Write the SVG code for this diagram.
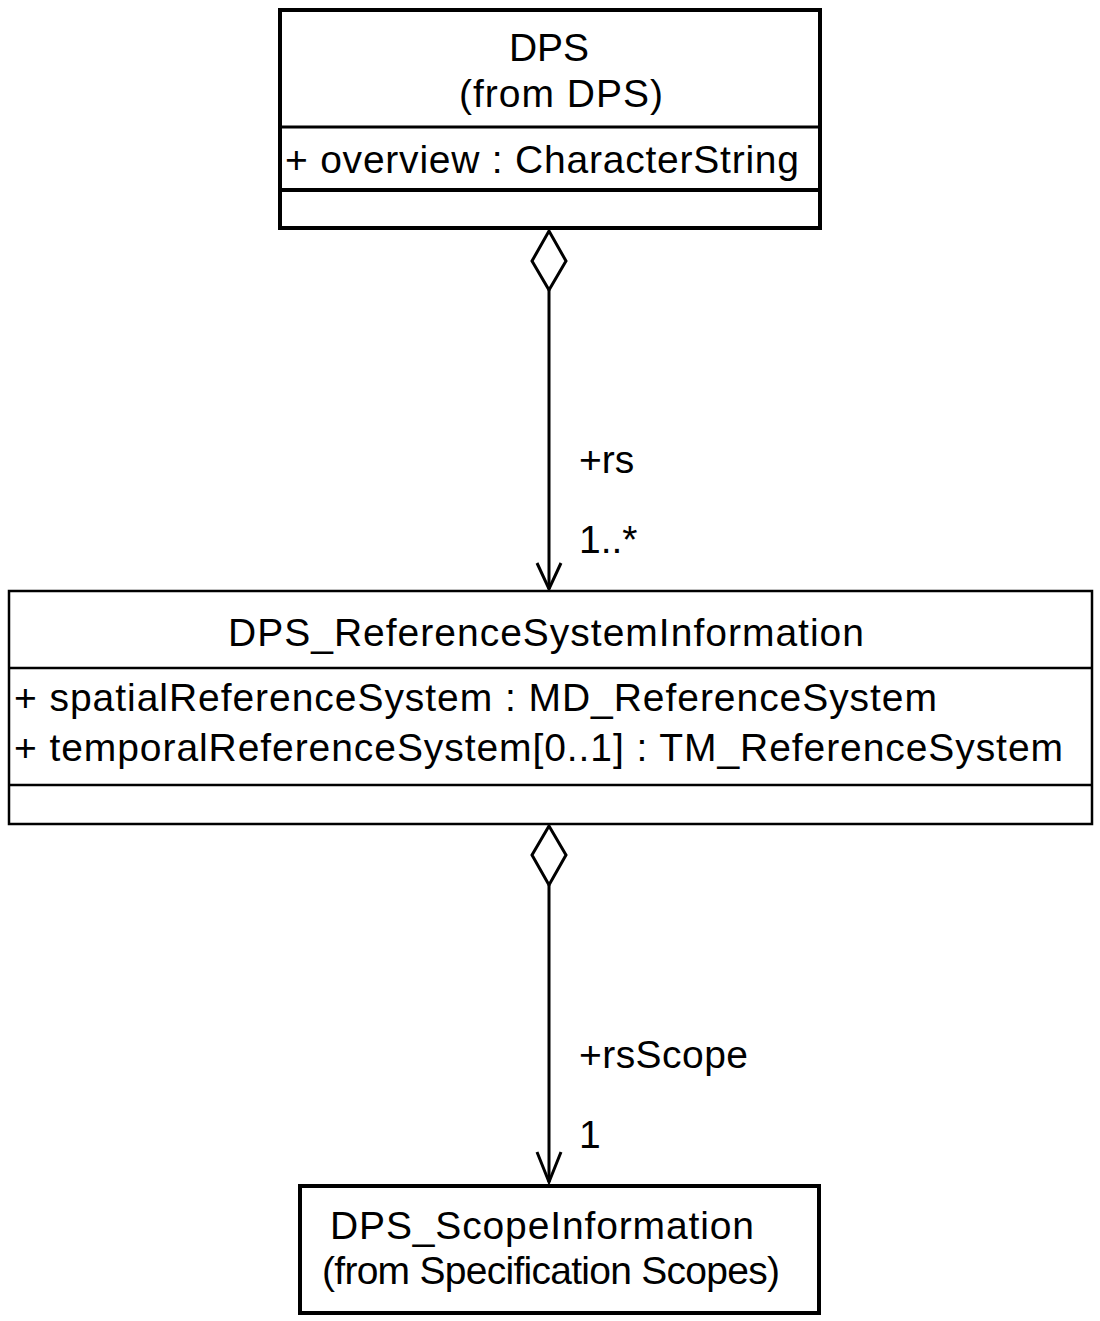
<svg xmlns="http://www.w3.org/2000/svg" width="1100" height="1321" viewBox="0 0 1100 1321">
<style>
text{font-family:"Liberation Sans",Arial,sans-serif;font-size:39px;fill:#000}
.c{text-anchor:middle}
.box{fill:#fff;stroke:#000}
.thick{stroke-width:4}
.thin{stroke-width:2.5}
.ln{stroke:#000;fill:none}
</style>
<rect width="1100" height="1321" fill="#fff"/>
<g id="connectors">
  <g id="c1">
    <line class="ln" x1="549" y1="290" x2="549" y2="589" stroke-width="3"/>
    <polygon points="549,231 566,261 549,290 532,261" fill="#fff" stroke="#000" stroke-width="3"/>
    <polyline class="ln" points="537,563 549,589 561,563" stroke-width="3"/>
    <text x="579" y="473">+rs</text>
    <text x="579" y="553">1..*</text>
  </g>
  <g id="c2">
    <line class="ln" x1="549" y1="885" x2="549" y2="1182" stroke-width="3"/>
    <polygon points="549,826 566,855 549,885 532,855" fill="#fff" stroke="#000" stroke-width="3"/>
    <polyline class="ln" points="537,1152 549,1182 561,1152" stroke-width="3"/>
    <text x="579" y="1068" textLength="169">+rsScope</text>
    <text x="579" y="1148">1</text>
  </g>
</g>
<g id="DPS">
  <rect class="box thick" x="280" y="10" width="540" height="218"/>
  <line class="ln" x1="280" y1="127" x2="820" y2="127" stroke-width="3"/>
  <line class="ln" x1="280" y1="190" x2="820" y2="190" stroke-width="4"/>
  <text class="c" x="549" y="61">DPS</text>
  <text x="459" y="107" textLength="204">(from DPS)</text>
  <text x="285" y="173" textLength="514">+ overview : CharacterString</text>
</g>
<g id="DPS_ReferenceSystemInformation">
  <rect class="box thin" x="9" y="591" width="1083" height="233"/>
  <line class="ln" x1="9" y1="668" x2="1092" y2="668" stroke-width="2.5"/>
  <line class="ln" x1="9" y1="785" x2="1092" y2="785" stroke-width="2.5"/>
  <text x="228" y="646" textLength="636">DPS_ReferenceSystemInformation</text>
  <text x="14" y="711" textLength="923">+ spatialReferenceSystem : MD_ReferenceSystem</text>
  <text x="14" y="761" textLength="1049">+ temporalReferenceSystem[0..1] : TM_ReferenceSystem</text>
</g>
<g id="DPS_ScopeInformation">
  <rect class="box thick" x="300" y="1186" width="519" height="127"/>
  <text x="330" y="1239" textLength="424">DPS_ScopeInformation</text>
  <text x="322" y="1284" textLength="458">(from Specification Scopes)</text>
</g>
</svg>
